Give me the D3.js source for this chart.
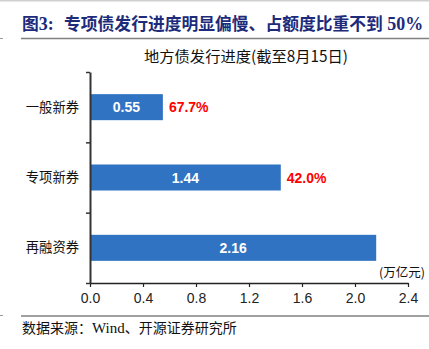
<!DOCTYPE html>
<html><head><meta charset="utf-8">
<script src="https://cdn.jsdelivr.net/npm/d3@7/dist/d3.min.js"></script>
<style>
html,body{margin:0;padding:0;background:#fff;}
svg{display:block;}
</style></head>
<body>
<svg id="c" width="429" height="349"></svg>
<script>
const categories = ["一般新券", "专项新券", "再融资券"];
const values = [0.55, 1.44, 2.16];
const shares = ["67.7%", "42.0%", ""];
const xTicks = [0.0, 0.4, 0.8, 1.2, 1.6, 2.0, 2.4];
const titleParts = ["图", "3:", "专项债发行进度明显偏慢、占额度比重不到", " 50%"];
const subtitle = "地方债发行进度(截至8月15日)";
const unitLabel = "(万亿元)";
const sourceParts = ["数据来源：", "Wind", "、开源证券研究所"];

const svg = d3.select("#c");
const cjk = "'Noto Sans CJK SC','Noto Sans',sans-serif";
const lat = "'Liberation Sans',Arial,sans-serif";
const ser = "'Liberation Serif','Times New Roman',serif";

// top light line
svg.append("rect").attr("x",0).attr("y",0).attr("width",429).attr("height",1.5).attr("fill","#d0d0d0");

// title
const t = svg.append("text").attr("x",22).attr("y",30).attr("fill","#1d2b7a")
  .attr("font-weight","bold").attr("font-size",16.8);
t.append("tspan").attr("font-family",cjk).text(titleParts[0]);
t.append("tspan").attr("font-family",ser).attr("font-size",18).text(titleParts[1]);
t.append("tspan").attr("x",64).attr("font-family",cjk).text(titleParts[2]);
t.append("tspan").attr("font-family",ser).attr("font-size",18).text(titleParts[3]);

// rules
svg.append("line").attr("x1",21).attr("x2",429).attr("y1",38.5).attr("y2",38.5).attr("stroke","#808080").attr("stroke-width",1.5);
svg.append("line").attr("x1",0).attr("x2",3).attr("y1",38.5).attr("y2",38.5).attr("stroke","#999").attr("stroke-width",1);
svg.append("line").attr("x1",21).attr("x2",429).attr("y1",316).attr("y2",316).attr("stroke","#808080").attr("stroke-width",1.5);
svg.append("line").attr("x1",0).attr("x2",3).attr("y1",315.5).attr("y2",315.5).attr("stroke","#999").attr("stroke-width",1);

// subtitle
svg.append("text").attr("x",246).attr("y",62).attr("text-anchor","middle")
  .attr("font-family",cjk).attr("font-size",15.3).attr("fill","#111").text(subtitle);

// scales
const x = d3.scaleLinear().domain([0, 2.4]).range([90, 408]);
const y = d3.scaleBand().domain(categories).range([72, 283]).paddingInner(0.63).paddingOuter(0.315);
const yb = d3.scaleLinear().domain([0, categories.length]).range([72, 283]);

// bars
svg.selectAll("rect.bar").data(values).join("rect").attr("class","bar")
  .attr("x", x(0)).attr("y", (d,i)=>y(categories[i]))
  .attr("width", d=>x(d)-x(0)).attr("height", y.bandwidth())
  .attr("fill","#3173c3");

// value labels
svg.selectAll("text.val").data(values).join("text").attr("class","val")
  .attr("x", d=>(x(0)+x(d))/2).attr("y", (d,i)=>y(categories[i])+y.bandwidth()/2+5)
  .attr("text-anchor","middle").attr("font-family",lat).attr("font-weight","bold")
  .attr("font-size",14).attr("fill","#fff").text(d=>d.toFixed(2));

// share labels
svg.selectAll("text.share").data(values).join("text").attr("class","share")
  .attr("x", d=>x(d)+6).attr("y", (d,i)=>y(categories[i])+y.bandwidth()/2+5)
  .attr("font-family",lat).attr("font-weight","bold")
  .attr("font-size",14).attr("fill","#ff0000").text((d,i)=>shares[i]);

// x axis
const xa = svg.append("g").attr("transform","translate(0,283)")
  .call(d3.axisBottom(x).tickValues(xTicks).tickFormat(d3.format(".1f")).tickSize(4).tickSizeOuter(0));
xa.select(".domain").attr("stroke","#222").attr("stroke-width",1.5);
xa.selectAll(".tick line").attr("stroke","#222").attr("stroke-width",1.2);
xa.selectAll(".tick text").attr("font-family",lat).attr("font-size",14).attr("fill","#222").attr("dy","0.9em");

// y axis
const ya = svg.append("g").attr("transform","translate(90,0)")
  .call(d3.axisLeft(yb).tickValues(d3.range(categories.length+1)).tickFormat("").tickSize(4).tickSizeOuter(0));
ya.select(".domain").attr("stroke","#333").attr("stroke-width",2);
ya.selectAll(".tick line").attr("stroke","#333").attr("stroke-width",1.5);

// category labels
svg.selectAll("text.cat").data(categories).join("text").attr("class","cat")
  .attr("x", 79).attr("y", d=>y(d)+y.bandwidth()/2+4.5)
  .attr("text-anchor","end").attr("font-family",cjk).attr("font-size",13.3).attr("fill","#111").text(d=>d);

// unit
svg.append("text").attr("x",425).attr("y",277).attr("text-anchor","end")
  .attr("font-family",cjk).attr("font-size",12.5).attr("fill","#111").text(unitLabel);

// source
const s = svg.append("text").attr("x",22).attr("y",333).attr("font-size",14).attr("fill","#111");
s.append("tspan").attr("font-family",cjk).text(sourceParts[0]);
s.append("tspan").attr("font-family",ser).attr("font-size",15).text(sourceParts[1]);
s.append("tspan").attr("font-family",cjk).text(sourceParts[2]);
</script>
</body></html>
